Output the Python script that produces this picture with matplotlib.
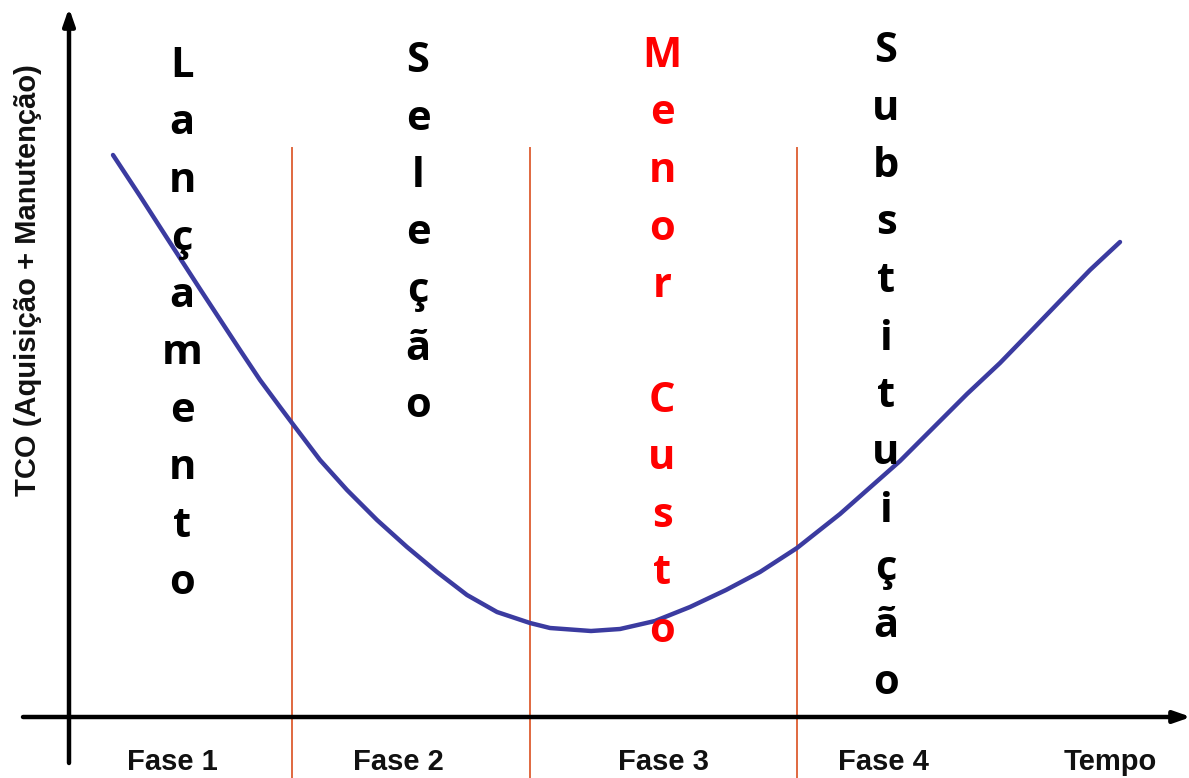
import numpy as np
import matplotlib.pyplot as plt

# TCO curve (time and cost in arbitrary units)
tempo = [0.44, 0.71, 0.98, 1.31, 1.71, 1.91, 2.11, 2.23, 2.51, 2.78,
         3.08, 3.38, 3.68, 3.98, 4.28, 4.61, 4.81, 5.22, 5.51, 5.86, 6.21,
         6.57, 6.91, 7.28, 7.71, 8.31, 8.64, 8.98, 9.31, 9.64, 9.91, 10.21,
         10.51]
tco = [5.62, 5.21, 4.79, 4.28, 3.67, 3.37, 3.10, 2.94, 2.57, 2.27,
       1.97, 1.70, 1.45, 1.22, 1.05, 0.94, 0.89, 0.86, 0.88, 0.96, 1.10,
       1.27, 1.45, 1.69, 2.03, 2.56, 2.89, 3.23, 3.54, 3.88, 4.16, 4.47,
       4.75]

# phase boundaries and labels
limites = [2.23, 4.61, 7.28]
fases = ['Fase 1', 'Fase 2', 'Fase 3', 'Fase 4', 'Tempo']
fases_x = [1.03, 3.29, 5.94, 8.14, 10.41]

# vertical words: text, x position, first baseline, colour
palavras = ['Lançamento', 'Seleção', 'Menor Custo', 'Substituição']
palavras_x = [1.13, 3.49, 5.93, 8.17]
palavras_topo = [6.40, 6.45, 6.50, 6.55]
palavras_cor = ['black', 'black', '#ff0000', 'black']
passo = 0.575

fig = plt.figure(figsize=(11.89, 7.78), dpi=100)
ax = fig.add_axes([0, 0, 1, 1])
ax.set_xlim(-0.69, 11.20)
ax.set_ylim(-0.61, 7.17)
ax.axis('off')

# axes drawn as arrows
seta = dict(arrowstyle='-|>,head_width=0.35,head_length=1.0',
            color='black', lw=3.2, shrinkA=0, shrinkB=0)
ax.annotate('', xy=(0, 7.09), xytext=(0, -0.46), arrowprops=seta,
            annotation_clip=False)
ax.annotate('', xy=(11.22, 0), xytext=(-0.46, 0), arrowprops=seta,
            annotation_clip=False)

for x in limites:
    ax.plot([x, x], [-0.7, 5.69], color='#e0683f', lw=1.4, zorder=1)

ax.plot(tempo, tco, color='#3b3ba0', lw=3.2, solid_capstyle='round',
        solid_joinstyle='round', zorder=3)

for nome, x in zip(fases, fases_x):
    ax.text(x, -0.45, nome, ha='center', va='center', fontsize=21,
            fontweight='bold', family='Liberation Sans', color='#111111')

ax.text(-0.41, 4.37, 'TCO (Aquisição + Manutenção)', rotation=90,
        ha='center', va='center', fontsize=21, fontweight='bold',
        family='Liberation Sans', color='#111111')

for palavra, x, topo, cor in zip(palavras, palavras_x, palavras_topo, palavras_cor):
    for i, letra in enumerate(palavra):
        if letra == ' ':
            continue
        ax.text(x, topo - i * passo, letra, ha='center', va='baseline',
                fontsize=30, fontweight='bold', family='Open Sans',
                color=cor, zorder=4)

fig.savefig('out.png', dpi=100)
